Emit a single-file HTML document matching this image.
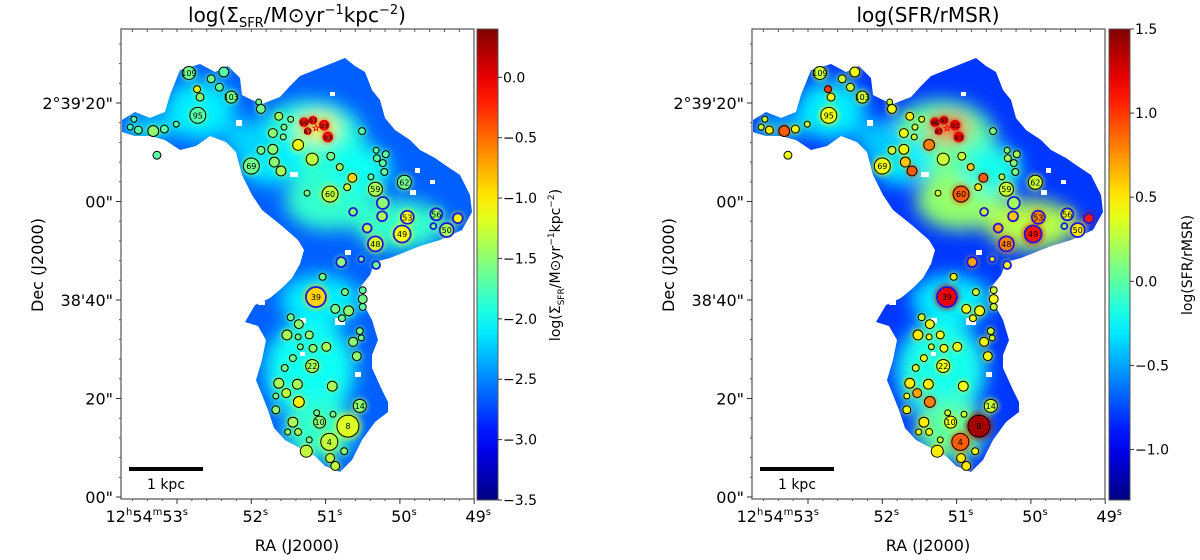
<!DOCTYPE html>
<html><head><meta charset="utf-8"><style>
html,body{margin:0;padding:0;background:#fff;}
svg{display:block;font-family:"DejaVu Sans","Liberation Sans",sans-serif;}
</style></head><body>
<svg id="fig" width="1200" height="560" viewBox="0 0 1200 560" xmlns="http://www.w3.org/2000/svg">
<defs>
<filter id="blur" x="-50%" y="-50%" width="200%" height="200%"><feGaussianBlur stdDeviation="9"/></filter>
<filter id="blur2" x="-50%" y="-50%" width="200%" height="200%"><feGaussianBlur stdDeviation="2.5"/></filter>
</defs>
</svg>
<script>
// ---- data: star-forming regions (RA seconds of 12h54m, Dec arcsec above 2°38'00") ----
const ra = [52.84,52.37,52.54,52.43,52.73,52.69,52.27,52.72,51.90,51.87,
 53.58,53.63,53.52,53.32,53.17,53.01,53.27,51.63,51.47,51.56,
 51.71,51.57,51.37,51.87,51.71,52.00,51.69,51.60,51.18,50.93,
 51.29,51.17,51.02,51.24,50.97,50.51,50.32,50.31,50.19,50.23,
 50.21,50.81,50.64,50.71,50.39,51.25,50.94,50.33,49.94,50.23,
 50.63,50.24,50.44,49.90,49.97,50.33,49.51,49.55,49.37,49.22,
 50.79,50.52,50.32,51.04,51.13,50.74,50.50,50.50,50.50,50.87,
 50.69,50.78,51.47,51.36,51.52,51.37,51.22,51.34,51.17,50.99,
 50.54,50.63,50.52,50.58,51.44,51.18,51.55,51.63,51.53,51.38,
 51.67,51.36,50.91,50.54,51.67,51.44,51.12,50.90,51.08,50.70,
 51.51,51.37,51.22,50.95,51.26,50.75,50.94,50.87];
const dec = [86.1,86.3,84.9,83.2,82.8,81.2,81.2,77.5,80.2,78.8,
 76.7,75.1,74.5,74.3,74.7,75.7,69.4,77.3,76.7,75.1,
 73.9,73.1,71.5,70.4,70.6,67.2,68.0,66.2,68.6,69.2,
 76.1,76.5,75.5,74.3,73.1,74.3,70.4,68.8,69.6,67.8,
 66.0,67.0,64.8,62.9,65.0,61.7,61.5,62.5,63.9,59.7,
 57.9,57.0,54.6,56.8,53.4,51.4,57.4,55.0,54.2,56.6,
 47.7,48.3,47.1,44.7,40.6,41.6,42.0,40.2,38.6,38.2,
 37.8,36.3,36.5,35.1,32.9,32.5,32.9,30.5,30.2,30.5,
 33.7,31.5,32.3,28.6,28.2,26.6,26.2,23.1,21.1,22.9,
 20.5,19.3,22.5,18.5,17.7,15.2,17.1,16.8,15.2,14.4,
 13.2,13.2,11.6,11.2,9.3,9.3,7.9,6.3];
const rad = [1.32,1.0,0.8,0.8,0.7,0.8,1.22,1.62,0.6,0.9,
 0.6,0.6,0.8,1.1,0.8,0.6,0.8,0.8,0.6,0.6,
 0.9,0.6,1.1,0.8,1.0,1.62,1.0,1.0,1.22,0.8,
 0.8,0.7,0.9,0.6,0.9,0.7,0.6,0.7,0.7,0.7,
 0.7,0.7,0.9,0.7,0.6,0.6,1.62,1.42,1.42,1.22,
 0.8,1.0,0.9,1.32,1.73,1.52,1.22,0.6,1.42,1.0,
 1.0,0.6,0.8,0.7,2.03,0.7,0.7,0.9,0.7,0.9,
 1.0,0.7,0.7,0.9,1.0,0.6,0.8,0.6,0.8,0.9,
 0.7,0.9,0.6,0.9,0.7,1.32,0.7,1.0,0.9,1.0,
 0.6,1.1,1.0,1.32,0.8,1.0,0.6,0.6,1.22,2.23,
 0.6,0.7,0.6,1.73,1.22,0.7,0.9,0.9];
const labels = ['109','','','','','','103','95','','',
 '','','','','','','','','','',
 '','','','','','69','','','','',
 '96','97','93','87','83','','','','','',
 '','','','','','','60','59','62','',
 '','','','53','49','48','56','','50','',
 '','','','','39','','','','','',
 '','','','','','','','','','',
 '','','','','','22','','','','',
 '','','','14','','','','','10','8',
 '','','','4','','','',''];
const edges = ['k','k','k','k','k','k','k','k','k','k',
 'k','k','k','k','k','k','k','k','k','k',
 'k','k','k','k','k','k','k','k','k','k',
 'r','r','r','r','r','k','k','k','k','k',
 'k','k','k','k','k','k','k','k','k','b',
 'b','b','b','b','b','b','b','b','b','b',
 'b','b','b','k','b','k','k','k','k','k',
 'k','k','k','k','k','k','k','k','k','k',
 'k','k','k','k','k','k','k','k','k','k',
 'k','k','k','k','k','k','k','k','k','k',
 'k','k','k','k','k','k','k','k'];
const sfrVals = [-1.6,-1.7,-1.6,-1.7,-1.1,-1.5,-1.6,-1.7,-1.6,-1.6,
 -1.7,-1.8,-1.7,-1.5,-1.7,-1.7,-1.7,-1.4,-1.6,-1.6,
 -1.5,-1.6,-1.1,-1.6,-1.5,-1.6,-1.5,-1.4,-1.3,-1.6,
 -0.2,-0.2,-0.2,-0.3,-0.2,-1.7,-1.7,-1.7,-1.7,-1.7,
 -1.7,-1.4,-0.9,-1.3,-1.7,-1.6,-1.3,-1.4,-1.6,-1.5,
 -1.5,-1.4,-1.3,-1.1,-1.1,-1.2,-1.5,-1.6,-1.4,-1.1,
 -1.5,-1.6,-1.6,-1.6,-0.9,-1.6,-1.7,-1.6,-1.7,-1.6,
 -1.5,-1.6,-1.6,-1.5,-1.4,-1.6,-1.5,-1.6,-1.5,-1.4,
 -1.6,-1.5,-1.6,-1.5,-1.6,-1.4,-1.6,-1.4,-1.3,-1.4,
 -1.6,-1.0,-1.4,-1.5,-1.5,-1.4,-1.6,-1.6,-1.5,-1.2,
 -1.5,-1.4,-1.6,-1.3,-1.3,-1.5,-1.3,-1.3];
const ratioVals = [0.3,0.4,0.3,0.3,1.0,0.4,0.3,0.4,0.3,0.4,
 0.3,0.3,0.5,0.9,0.4,0.3,0.4,0.5,0.3,0.3,
 0.4,0.3,0.8,0.3,0.4,0.4,0.6,0.9,0.3,0.3,
 1.3,1.3,1.2,1.2,1.2,0.1,0.1,0.2,0.2,0.1,
 0.1,0.6,0.9,0.5,0.2,0.3,0.9,0.3,0.3,0.2,
 0.3,0.6,0.7,0.8,1.1,0.8,0.4,0.2,0.5,1.1,
 0.7,0.4,0.4,0.4,1.2,0.3,0.3,0.4,0.3,0.4,
 0.4,0.4,0.3,0.4,0.5,0.4,0.4,0.3,0.4,0.4,
 0.3,0.4,0.3,0.4,0.4,0.4,0.3,0.5,0.7,0.5,
 0.4,0.8,0.4,0.3,0.4,0.5,0.3,0.3,0.4,1.4,
 0.4,0.4,0.3,0.9,0.5,0.4,0.5,0.5];
const starRa = [51.13], starDec = [74.9];
const sfrTicks = [0.0,-0.5,-1.0,-1.5,-2.0,-2.5,-3.0,-3.5];
const sfrTickLabels = ['0.0','\u22120.5','\u22121.0','\u22121.5','\u22122.0','\u22122.5','\u22123.0','\u22123.5'];
const ratioTicks = [1.5,1.0,0.5,0.0,-0.5,-1.0];
const ratioTickLabels = ['1.5','1.0','0.5','0.0','\u22120.5','\u22121.0'];
const raTicks = [53,52,51,50,49];
const decTicks = [80,60,40,20,0];
const decTickLabels = ['2\u00b039\'20"','00"','38\'40"','20"','00"'];

// ---- helpers ----
const NS='http://www.w3.org/2000/svg';
const svg=document.getElementById('fig');
function mk(tag,attrs,parent){const e=document.createElementNS(NS,tag);for(const k in attrs)e.setAttribute(k,attrs[k]);(parent||svg).appendChild(e);return e;}
function jet(t){t=Math.max(0,Math.min(1,t));const c=v=>Math.round(255*Math.max(0,Math.min(1,v)));
 const r=1.5-Math.abs(4*t-3),g=1.5-Math.abs(4*t-2),b=1.5-Math.abs(4*t-1);return 'rgb('+c(r)+','+c(g)+','+c(b)+')';}
const AX={top:29,bottom:499,w:353};
function xS(L,r){return L+56+(53-r)*74.3;}
function yS(d){return 497-d*4.925;}
function rS(a){return a*4.925;}

// raster footprint outline (px relative to left panel frame)
const outline=[[122,120],[135,112],[150,118],[165,112],[170,95],[180,70],[200,64],[215,72],[228,66],[240,78],[242,95],[252,100],[262,104],[280,97],[290,86],[300,76],[330,64],[345,58],[355,66],[365,72],[372,90],[380,100],[385,118],[395,130],[410,140],[420,150],[435,158],[445,165],[460,175],[470,195],[472,212],[462,230],[440,240],[420,246],[405,252],[390,258],[375,262],[370,275],[358,290],[364,305],[372,320],[378,340],[372,355],[372,368],[382,390],[388,402],[388,412],[375,422],[362,440],[352,460],[340,472],[325,466],[315,456],[300,448],[285,440],[274,428],[268,410],[262,395],[256,380],[262,360],[266,340],[258,326],[245,322],[255,305],[270,298],[282,288],[292,278],[300,264],[304,250],[298,240],[282,226],[262,210],[252,195],[242,175],[236,152],[226,142],[210,136],[196,146],[180,150],[165,140],[150,136],[135,136],[122,132]];
const glows=[[200,110,35,30,-2.1,-0.3],[150,128,25,12,-2.2,-0.4],[310,140,55,40,-1.9,0.0],[318,128,20,13,-1.0,0.9],[330,200,45,30,-1.85,0.15],[400,225,45,25,-1.85,0.25],[360,170,30,25,-2.0,-0.2],[270,160,30,25,-2.1,-0.3],[320,300,40,25,-2.1,-0.3],[310,370,45,50,-2.0,-0.2],[320,430,35,30,-1.85,0.0],[250,140,25,20,-2.2,-0.4]];
const holes=[[236,120,6,6],[330,92,5,4],[290,172,8,5],[410,190,6,5],[270,245,8,6],[335,318,10,7],[300,318,6,5],[355,372,6,5],[258,300,7,5],[415,168,5,5],[300,352,5,4],[345,250,6,5],[430,180,5,4]];

function panel(p){
 const L=p.L, off=L-121, vmin=p.vmin, vmax=p.vmax;
 const cm=v=>jet((v-vmin)/(vmax-vmin));
 const g=mk('g',{});
 
 
 const clipId='clip'+p.id;
 const defs=mk('defs',{},g);
 const cp=mk('clipPath',{id:clipId},defs);
 mk('polygon',{points:outline.map(q=>(q[0]+off)+','+q[1]).join(' ')},cp);
 const img=mk('g',{'clip-path':'url(#'+clipId+')'},g);
 
 
 mk('rect',{x:L,y:AX.top,width:AX.w,height:AX.bottom-AX.top,fill:cm(p.base)},img);
 const gl=mk('g',{filter:'url(#blur)'},img);
 glows.forEach(q=>{mk('ellipse',{cx:q[0]+off,cy:q[1],rx:q[2],ry:q[3],fill:cm(p.gi===4?q[4]:q[5])},gl);});
 const spots=mk('g',{filter:'url(#blur2)'},img);
 for(let i=0;i<ra.length;i++){
  mk('circle',{cx:xS(L,ra[i]),cy:yS(dec[i]),r:rS(rad[i])*1.3,fill:cm(p.vals[i]),opacity:0.6},spots);}
 holes.forEach(q=>{mk('rect',{x:q[0]+off,y:q[1],width:q[2],height:q[3],fill:'#fff'},img);});
 const ec={k:'#000',b:'#1a1adc',r:'#e00000'};
 for(let i=0;i<ra.length;i++){
  const c=mk('circle',{cx:xS(L,ra[i]),cy:yS(dec[i]),r:rS(rad[i]),fill:cm(p.vals[i]),stroke:ec[edges[i]],'stroke-width':edges[i]==='k'?1:1.8});
  
  
  if(labels[i]){const t=mk('text',{x:xS(L,ra[i]),y:yS(dec[i])+3,'font-size':rad[i]>1?8:6.5,'text-anchor':'middle',fill:'#000'});t.textContent=labels[i];
   
   }
 }
 const st=mk('text',{x:xS(L,starRa[0]),y:yS(starDec[0])+3,'font-size':9,'text-anchor':'middle',fill:'none',stroke:'#e00','stroke-width':0.6});st.textContent='\u2606';
 
 
 const fr=mk('rect',{x:L,y:AX.top,width:AX.w,height:AX.bottom-AX.top,fill:'none',stroke:'#555','stroke-width':1.2});
 
 
 for(let m=53.6;m>=48.95;m-=0.2){const x=xS(L,m);if(x<L||x>L+AX.w)continue;
  mk('line',{x1:x,y1:AX.top,x2:x,y2:AX.top+3,stroke:'#555'});
  mk('line',{x1:x,y1:AX.bottom,x2:x,y2:AX.bottom+2,stroke:'#555'});}
 for(let d=0;d<=96;d+=4){const y=yS(d);if(y<AX.top||y>AX.bottom)continue;
  mk('line',{x1:L-2,y1:y,x2:L,y2:y,stroke:'#555'});}
 raTicks.forEach(r=>{const x=xS(L,r);mk('line',{x1:x,y1:AX.bottom,x2:x,y2:AX.bottom+5,stroke:'#333'});});
 decTicks.forEach((d,i)=>{const y=yS(d);mk('line',{x1:L-5,y1:y,x2:L,y2:y,stroke:'#333'});
  const t=mk('text',{x:L-8,y:y+6,'font-size':16,'text-anchor':'end'});t.textContent=decTickLabels[i];
  
  });
 const xl=mk('text',{x:xS(L,53)+11,y:522,'font-size':16,'text-anchor':'end'});
 xl.innerHTML='12<tspan font-size="10" dy="-7">h</tspan><tspan dy="7">54</tspan><tspan font-size="10" dy="-7">m</tspan><tspan dy="7">53</tspan><tspan font-size="10" dy="-7">s</tspan>';
 
 
 raTicks.slice(1).forEach(r=>{const t=mk('text',{x:xS(L,r)+4,y:522,'font-size':16,'text-anchor':'middle'});
  t.innerHTML=String(r)+'<tspan font-size="10" dy="-7">s</tspan>';
  
  });
 const xa=mk('text',{x:L+176,y:551,'font-size':16,'text-anchor':'middle'});xa.textContent='RA (J2000)';
 
 
 const ya=mk('text',{x:0,y:0,'font-size':16,'text-anchor':'middle',transform:'translate('+(L-78)+',265) rotate(-90)'});ya.textContent='Dec (J2000)';
 
 
 const sb=mk('line',{x1:L+8,y1:469,x2:L+82,y2:469,stroke:'#000','stroke-width':4});
 
 
 const sbt=mk('text',{x:L+45,y:489,'font-size':14,'text-anchor':'middle'});sbt.textContent='1 kpc';
 
 
 const CX=p.cbx, CW=21;
 const gid='grad'+p.id;
 const lg=mk('linearGradient',{id:gid,x1:0,y1:1,x2:0,y2:0},defs);
 for(let k=0;k<=20;k++){mk('stop',{offset:k/20,'stop-color':jet(k/20)},lg);}
 const cb=mk('rect',{x:CX,y:AX.top,width:CW,height:AX.bottom-AX.top+1,fill:'url(#'+gid+')',stroke:'#555','stroke-width':1});
 
 
 const cy=v=>AX.bottom+1-(v-vmin)/(vmax-vmin)*(AX.bottom+1-AX.top);
 p.ticks.forEach((v,i)=>{const y=cy(v);mk('line',{x1:CX+CW,y1:y,x2:CX+CW+4,y2:y,stroke:'#333'});
  const t=mk('text',{x:CX+CW+5,y:y+5,'font-size':14});t.textContent=p.tickLabels[i];
  
  });
 const ct=mk('text',{x:0,y:0,'font-size':14,'text-anchor':'middle',transform:'translate('+(CX+CW+62)+',265) rotate(-90)'});
 ct.innerHTML=p.cbTitle;
 
 
 const tt=mk('text',{x:L+176,y:22,'font-size':20,'text-anchor':'middle'});tt.innerHTML=p.title;
 
 
}
const sfrTitle='log(\u03a3<tspan font-size="13" dy="5">SFR</tspan><tspan dy="-5">/M\u2299yr</tspan><tspan font-size="13" dy="-8">\u22121</tspan><tspan dy="8">kpc</tspan><tspan font-size="13" dy="-8">\u22122</tspan><tspan dy="8">)</tspan>';
const sfrCb='log(\u03a3<tspan font-size="9" dy="4">SFR</tspan><tspan dy="-4">/M\u2299yr</tspan><tspan font-size="9" dy="-6">\u22121</tspan><tspan dy="6">kpc</tspan><tspan font-size="9" dy="-6">\u22122</tspan><tspan dy="6">)</tspan>';
panel({id:'L',name:'sfr-density',L:121,cbx:477,vmin:-3.5,vmax:0.4,base:-2.65,gi:4,vals:sfrVals,ticks:sfrTicks,tickLabels:sfrTickLabels,title:sfrTitle,cbTitle:sfrCb});
panel({id:'R',name:'sfr-ratio',L:752,cbx:1109,vmin:-1.3,vmax:1.5,base:-0.8,gi:5,vals:ratioVals,ticks:ratioTicks,tickLabels:ratioTickLabels,title:'log(SFR/rMSR)',cbTitle:'log(SFR/rMSR)'});
</script>
</body></html>
